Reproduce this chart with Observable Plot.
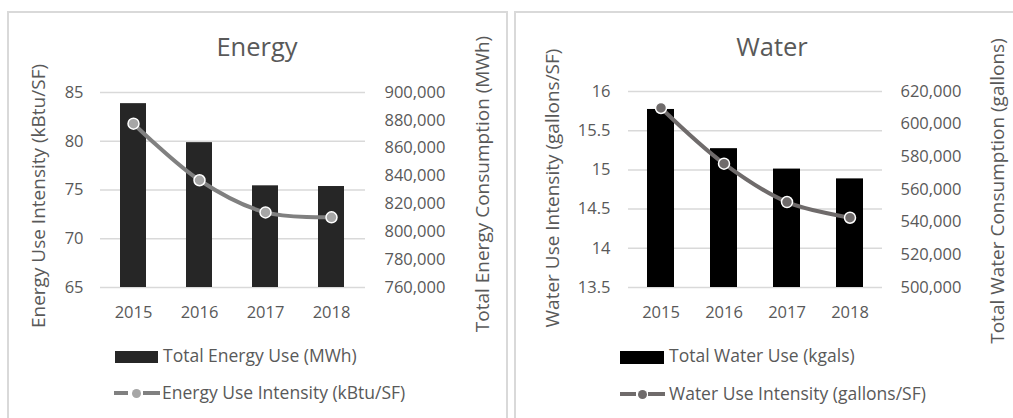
<!DOCTYPE html>
<html><head><meta charset="utf-8">
<script src="https://cdn.jsdelivr.net/npm/d3@7"></script>
<script src="https://cdn.jsdelivr.net/npm/@observablehq/plot@0.6"></script>
<style>
html,body{margin:0;padding:0;background:#fff;}
#root{position:relative;width:1013px;height:418px;overflow:hidden;font-family:"Open Sans",sans-serif;color:#595959;}
.abs{position:absolute;white-space:nowrap;}
.frame{position:absolute;border:2px solid #d9d9d9;box-sizing:border-box;pointer-events:none;z-index:5;}
.title{font-size:25.5px;line-height:25.5px;text-align:center;width:300px;}
.lab{font-size:17.5px;line-height:17.5px;}
.rot{font-size:19px;line-height:19px;transform:translate(-50%,-50%) rotate(-90deg);}
svg{position:absolute;top:0;}
</style>
</head><body><div id="root"></div>
<script>
// ---- data ----
const years = ["2015", "2016", "2017", "2018"];
const energyTotal = [892000, 864000, 833000, 832500];       // Total Energy Use (MWh), right axis
const energyIntensity = [81.8, 76.0, 72.7, 72.2];           // EUI (kBtu/SF), left axis
const waterTotal = [609000, 585000, 572500, 566500];        // Total Water Use (kgals), right axis
const waterIntensity = [15.79, 15.08, 14.59, 14.39];        // WUI (gallons/SF), left axis
const energyLeftTicks = [65, 70, 75, 80, 85];
const energyRightTicks = [760000, 780000, 800000, 820000, 840000, 860000, 880000, 900000];
const waterLeftTicks = [13.5, 14, 14.5, 15, 15.5, 16];
const waterRightTicks = [500000, 520000, 540000, 560000, 580000, 600000, 620000];

const root = document.getElementById("root");
const fmt = d3.format(",");

function panel(c) {
  const toLeft = d3.scaleLinear().domain(c.rightDomain).range(c.leftDomain);
  const rows = years.map((y, i) => ({year: y, total: c.total[i], intensity: c.intensity[i]}));
  const yMin = c.leftDomain[0];
  const svg = Plot.plot({
    width: c.width, height: 418,
    marginLeft: c.ml, marginRight: c.mr, marginTop: c.mt, marginBottom: c.mb,
    style: {background: "transparent", fontFamily: "Open Sans", fontSize: "16.5px", color: "#595959", overflow: "visible"},
    x: {type: "band", domain: years, paddingInner: c.pi, paddingOuter: c.pi / 2},
    y: {domain: c.leftDomain},
    marks: [
      Plot.ruleY(c.leftTicks, {stroke: "#d9d9d9", strokeWidth: 1.5}),
      Plot.barY(rows, {x: "year", y1: () => yMin, y2: d => toLeft(d.total), fill: c.barColor}),
      Plot.line(rows, {x: "year", y: "intensity", stroke: c.lineColor, strokeWidth: 4, curve: "catmull-rom"}),
      Plot.dot(rows, {x: "year", y: "intensity", r: 5.5, fill: c.dotColor, stroke: "white", strokeWidth: 1.5}),
      Plot.axisY(c.leftTicks, {anchor: "left", tickSize: 0, tickPadding: c.tpl, tickFormat: d => String(d), label: null}),
      Plot.axisY(c.rightTicks.map(v => toLeft(v)), {anchor: "right", tickSize: 0, tickPadding: c.tpr, tickFormat: d => fmt(Math.round(toLeft.invert(d))), label: null}),
      Plot.axisX({tickSize: 0, tickPadding: 19, label: null})
    ]
  });
  svg.style.left = c.left + "px";
  root.appendChild(svg);
}

panel({left: 0, width: 506, ml: 100, mr: 141, mt: 92, mb: 131, pi: 0.6,
  leftDomain: [65, 85], rightDomain: [760000, 900000], leftTicks: energyLeftTicks, rightTicks: energyRightTicks,
  total: energyTotal, intensity: energyIntensity, barColor: "#262626", lineColor: "#808080", dotColor: "#a6a6a6", tpl: 17, tpr: 19});
panel({left: 507, width: 506, ml: 121, mr: 131, mt: 91, mb: 131, pi: 0.57,
  leftDomain: [13.5, 16], rightDomain: [500000, 620000], leftTicks: waterLeftTicks, rightTicks: waterRightTicks,
  total: waterTotal, intensity: waterIntensity, barColor: "#000000", lineColor: "#6f6b6b", dotColor: "#6f6b6b", tpl: 18, tpr: 18});

function add(html) { root.insertAdjacentHTML("beforeend", html); }
// frames
add('<div class="frame" style="left:7px;top:11px;width:501px;height:430px"></div>');
add('<div class="frame" style="left:514px;top:11px;width:520px;height:430px"></div>');
// titles
add('<div class="abs title" style="left:107px;top:34px">Energy</div>');
add('<div class="abs title" style="left:622px;top:34px">Water</div>');
// axis titles
add('<div class="abs rot" style="left:38px;top:196px">Energy Use Intensity (kBtu/SF)</div>');
add('<div class="abs rot" style="left:482px;top:184px">Total Energy Consumption (MWh)</div>');
add('<div class="abs rot" style="left:552px;top:188px">Water Use Intensity (gallons/SF)</div>');
add('<div class="abs rot" style="left:997px;top:191px">Total Water Consumption (gallons)</div>');
// legends - energy
add('<div class="abs" style="left:115px;top:351px;width:43px;height:12px;background:#262626"></div>');
add('<div class="abs lab" style="left:163px;top:347px">Total Energy Use (MWh)</div>');
add('<div class="abs" style="left:114px;top:391px;width:14px;height:4px;background:#808080"></div>');
add('<div class="abs" style="left:131.5px;top:388.5px;width:9px;height:9px;border-radius:50%;background:#a6a6a6"></div>');
add('<div class="abs" style="left:143px;top:391px;width:17px;height:4px;background:#808080"></div>');
add('<div class="abs lab" style="left:162px;top:384px">Energy Use Intensity (kBtu/SF)</div>');
// legends - water
add('<div class="abs" style="left:620px;top:351px;width:44px;height:12.5px;background:#000"></div>');
add('<div class="abs lab" style="left:669px;top:347px">Total Water Use (kgals)</div>');
add('<div class="abs" style="left:620px;top:392px;width:16px;height:4px;background:#6f6b6b"></div>');
add('<div class="abs" style="left:637.5px;top:389.5px;width:9px;height:9px;border-radius:50%;background:#6f6b6b"></div>');
add('<div class="abs" style="left:648px;top:392px;width:17px;height:4px;background:#6f6b6b"></div>');
add('<div class="abs lab" style="left:669px;top:384.5px">Water Use Intensity (gallons/SF)</div>');
</script>
</body></html>
